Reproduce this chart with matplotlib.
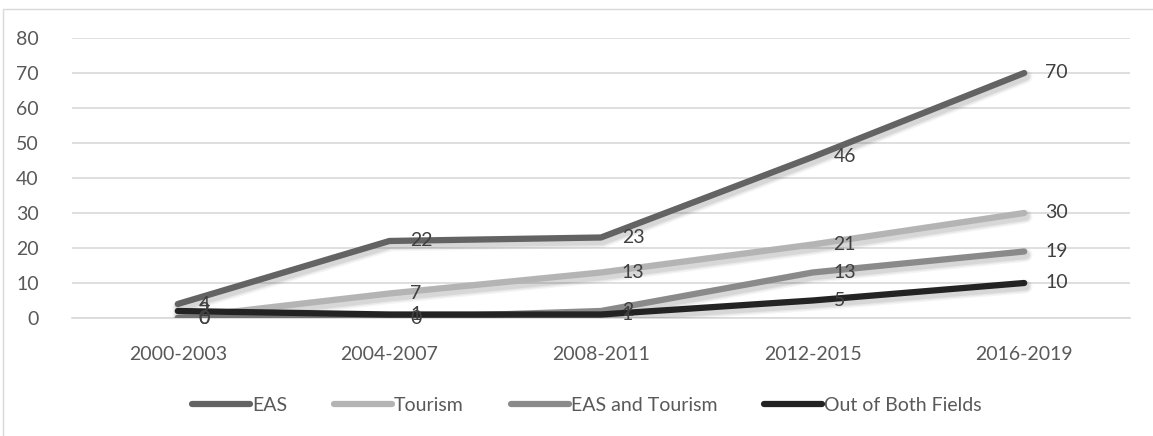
import matplotlib
matplotlib.use("Agg")
import matplotlib.pyplot as plt
import matplotlib.patheffects as pe
from matplotlib.patches import Rectangle

plt.rcParams['font.family'] = ['Lato', 'DejaVu Sans']

periods = ["2000-2003", "2004-2007", "2008-2011", "2012-2015", "2016-2019"]
eas = [4, 22, 23, 46, 70]
tourism = [0, 7, 13, 21, 30]
eas_and_tourism = [0, 0, 2, 13, 19]
out_of_both = [2, 1, 1, 5, 10]

series = [
    ("EAS", eas, "#636363"),
    ("Tourism", tourism, "#b4b4b4"),
    ("EAS and Tourism", eas_and_tourism, "#8a8a8a"),
    ("Out of Both Fields", out_of_both, "#232323"),
]

text_color = "#595959"
grid_color = "#d9d9d9"

fig = plt.figure(figsize=(11.53, 4.36), dpi=100)
fig.patches.append(Rectangle((3 / 1153, -0.05), 1.2, 1 - 9 / 436 + 0.05,
                             transform=fig.transFigure, fill=False,
                             edgecolor=grid_color, linewidth=1.0))
ax = fig.add_axes([72 / 1153, 1 - 318 / 436, (1130 - 72) / 1153, 280 / 436])

x = list(range(len(periods)))
# soft drop shadow built from a few widening, faint strokes
shadow = [pe.SimpleLineShadow(offset=(1.0, -2.5), shadow_color="black",
                              alpha=a, linewidth=w)
          for w, a in [(10, 0.04), (8, 0.05), (6, 0.07)]] + [pe.Normal()]
for name, vals, color in series:
    ax.plot(x, vals, color=color, linewidth=4.5, label=name,
            solid_capstyle="round", solid_joinstyle="round",
            path_effects=shadow, zorder=3)

for name, vals, color in series:
    for xi, v in zip(x, vals):
        ax.annotate(str(v), (xi, v), xytext=(15, 0), textcoords="offset points",
                    ha="left", va="center", fontsize=14, color="#404040",
                    zorder=5)

ax.set_xlim(-0.5, len(periods) - 0.5)
ax.set_ylim(0, 80)
ax.set_yticks(range(0, 81, 10))
ax.set_xticks(x)
ax.set_xticklabels(periods)
ax.tick_params(axis="both", length=0, labelsize=14, labelcolor=text_color)
ax.tick_params(axis="y", pad=24)
ax.tick_params(axis="x", pad=20)
ax.yaxis.grid(True, color=grid_color, linewidth=1.2)
ax.set_axisbelow(True)
for s in ["top", "right", "left"]:
    ax.spines[s].set_visible(False)
ax.spines["bottom"].set_color(grid_color)
ax.spines["bottom"].set_linewidth(1.2)

leg = fig.legend(loc="center", bbox_to_anchor=(0.509, 1 - 405 / 436), ncol=4,
                 frameon=False, fontsize=14, handlelength=3.0,
                 handletextpad=0.1, columnspacing=2.4)
for t in leg.get_texts():
    t.set_color(text_color)
for h in leg.get_lines():
    h.set_path_effects([])
    h.set_solid_capstyle("round")

fig.savefig("out.png", dpi=100)
